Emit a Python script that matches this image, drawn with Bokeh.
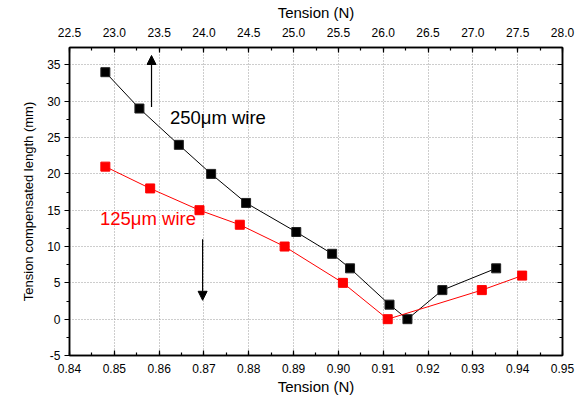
from bokeh.plotting import figure
from bokeh.models import (Range1d, LinearAxis, SingleIntervalTicker, PrintfTickFormatter,
                          CustomJSTickFormatter, Label, Arrow, NormalHead)
from bokeh.embed import file_html
from bokeh.resources import INLINE

# 250 um wire: tension on the top scale
black_tension_top = [22.90, 23.28, 23.72, 24.08, 24.47, 25.03, 25.43, 25.63, 26.07, 26.27, 26.66, 27.26]
black_length = [34, 29, 24, 20, 16, 12, 9, 7, 2, 0, 4, 7]

# 125 um wire: tension on the bottom scale
red_tension = [0.848, 0.858, 0.869, 0.878, 0.888, 0.901, 0.911, 0.932, 0.941]
red_length = [21, 18, 15, 13, 10, 5, 0, 4, 6]

FONT = "Liberation Sans"

# the tiny extra on the end keeps the 0.95 tick (0.01 * 95 rounds just above 0.95)
p = figure(width=584, height=399, output_backend="svg", toolbar_location=None,
           x_range=Range1d(0.84, 0.9500001), y_range=Range1d(-5, 37.4),
           min_border_left=69, min_border_right=22, min_border_top=45, min_border_bottom=44)
p.extra_x_ranges = {"top": Range1d(22.5, 28.0)}
p.background_fill_color = "white"
p.border_fill_color = "white"
p.outline_line_color = "black"
p.outline_line_width = 1.5

bottom_ticker = SingleIntervalTicker(interval=0.01, num_minor_ticks=2)
top_ticker = SingleIntervalTicker(interval=0.5, num_minor_ticks=2)
y_ticker = SingleIntervalTicker(interval=5, num_minor_ticks=2)


def style_axis(ax):
    ax.axis_line_color = "black"
    ax.axis_line_width = 1.5
    ax.major_tick_line_color = "black"
    ax.minor_tick_line_color = "black"
    ax.major_tick_line_width = 1.2
    ax.minor_tick_line_width = 1.2
    ax.major_label_text_font = FONT
    ax.major_label_text_font_size = "12px"
    ax.major_label_text_color = "black"
    ax.axis_label_text_font = FONT
    ax.axis_label_text_font_style = "normal"
    ax.axis_label_text_color = "black"


# bottom axis
xb = p.xaxis[0]
xb.ticker = bottom_ticker
xb.formatter = PrintfTickFormatter(format="%.2f")
xb.axis_label = "Tension (N)"
style_axis(xb)
xb.axis_label_text_font_size = "15px"
xb.major_tick_in, xb.major_tick_out = 5, 0
xb.minor_tick_in, xb.minor_tick_out = 3, 0
xb.major_label_standoff = 8
xb.axis_label_standoff = 2

# left axis
yl = p.yaxis[0]
yl.ticker = y_ticker
yl.formatter = PrintfTickFormatter(format="%d")
yl.axis_label = "Tension compensated length (mm)"
style_axis(yl)
yl.axis_label_text_font_size = "13px"
yl.major_tick_in, yl.major_tick_out = 0, 5
yl.minor_tick_in, yl.minor_tick_out = 0, 3
yl.major_label_standoff = 4
yl.axis_label_standoff = 8

# top axis
xt = LinearAxis(x_range_name="top", ticker=top_ticker,
                formatter=PrintfTickFormatter(format="%.1f"), axis_label="Tension (N)")
style_axis(xt)
xt.axis_label_text_font_size = "15px"
xt.major_tick_in, xt.major_tick_out = 5, 0
xt.minor_tick_in, xt.minor_tick_out = 3, 0
xt.major_label_standoff = 11
xt.axis_label_standoff = 4
p.add_layout(xt, "above")

# right axis, ticks only
yr = LinearAxis(ticker=y_ticker, formatter=CustomJSTickFormatter(code="return ''"))
style_axis(yr)
yr.major_label_text_font_size = "0px"
yr.major_label_standoff = 0
yr.major_tick_in, yr.major_tick_out = 5, 0
yr.minor_tick_in, yr.minor_tick_out = 3, 0
p.add_layout(yr, "right")

# dotted grid
p.xgrid.ticker = bottom_ticker
p.ygrid.ticker = y_ticker
for g in (p.xgrid[0], p.ygrid[0]):
    g.grid_line_color = "#9a9a9a"
    g.grid_line_dash = "1 2"
    g.grid_line_width = 1

# series
p.line(black_tension_top, black_length, x_range_name="top", line_color="black", line_width=1)
p.scatter(black_tension_top, black_length, x_range_name="top", marker="square", size=9,
          fill_color="black", line_color="#222222")
p.line(red_tension, red_length, line_color="#ff0000", line_width=1)
p.scatter(red_tension, red_length, marker="square", size=9,
          fill_color="#ff0000", line_color="#ff0000")

# labels and arrows pointing to each wire's tension scale
p.add_layout(Label(x=0.8624, y=27.8, text="250\u03bcm wire", text_font=FONT,
                   text_font_size="18.5px", text_color="black", text_baseline="middle"))
p.add_layout(Label(x=0.8468, y=13.9, text="125\u03bcm wire", text_font=FONT,
                   text_font_size="18.5px", text_color="#ff0000", text_baseline="middle"))
p.add_layout(Arrow(x_start=0.8583, y_start=29.2, x_end=0.8583, y_end=36.3, line_width=1.2,
                   end=NormalHead(size=9, fill_color="black", line_color="black")))
p.add_layout(Arrow(x_start=0.8697, y_start=11.0, x_end=0.8697, y_end=2.6, line_width=1.2,
                   end=NormalHead(size=9, fill_color="black", line_color="black")))

open("out.html", "w").write(file_html(p, INLINE))
